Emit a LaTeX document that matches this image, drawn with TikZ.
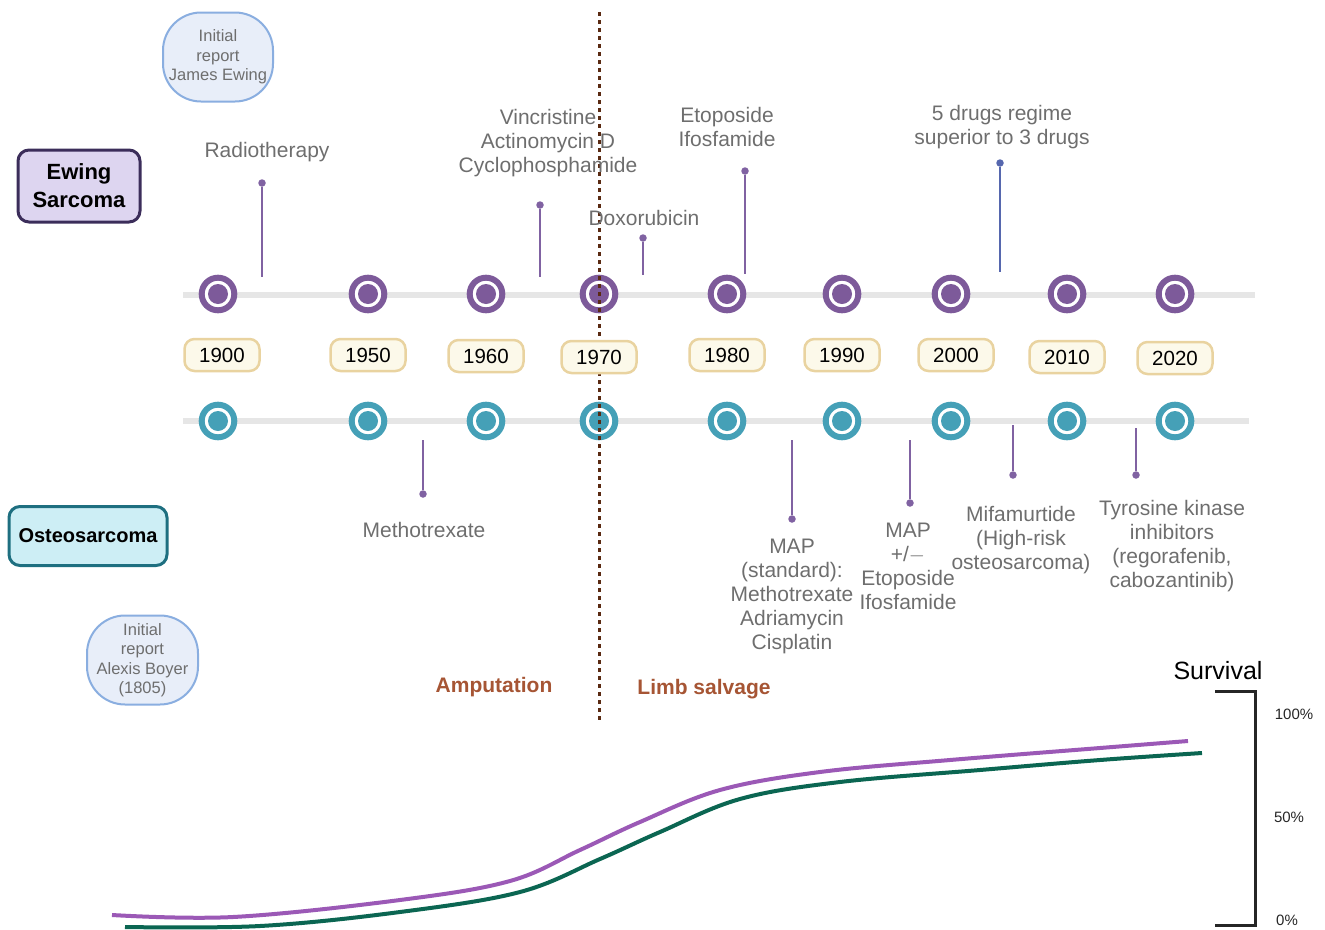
\documentclass[tikz,border=0pt]{standalone}
\usepackage{fontspec}
\setmainfont{Liberation Sans}
\usetikzlibrary{calc}
\definecolor{ewp}{HTML}{7D5A9A}
\definecolor{ost}{HTML}{45A0B7}
\definecolor{tlgray}{HTML}{E6E6E6}
\definecolor{pinc}{HTML}{8062A2}
\definecolor{pinb}{HTML}{5667AE}
\definecolor{txtg}{HTML}{6E6E6E}
\definecolor{yrfill}{HTML}{FCF9EA}
\definecolor{yrdraw}{HTML}{E9D3A0}
\definecolor{divc}{HTML}{5A2A12}
\definecolor{eraC}{HTML}{A65534}
\definecolor{ewfill}{HTML}{DDD5F0}
\definecolor{ewdraw}{HTML}{3B2D5A}
\definecolor{osfill}{HTML}{CDEEF5}
\definecolor{osdraw}{HTML}{1E6F80}
\definecolor{bubfill}{HTML}{E8EEF9}
\definecolor{bubdraw}{HTML}{8AAEE0}
\definecolor{survp}{HTML}{9B59B6}
\definecolor{survg}{HTML}{0B6652}
\tikzset{
  marker/.style={circle,draw=#1,line width=6pt,fill=white,minimum size=32.6pt,inner sep=0pt},
  core/.style={circle,fill=#1,minimum size=20pt,inner sep=0pt},
  yearbox/.style={draw=yrdraw,fill=yrfill,line width=2.5pt,rounded corners=10pt,minimum width=75pt,minimum height=32pt,inner sep=0pt,font=\fontsize{20.5}{24}\selectfont},
  pinline/.style={draw=#1,line width=2.2pt},
  pindot/.style={circle,fill=#1,minimum size=7.5pt,inner sep=0pt},
  lab/.style={text=txtg,align=center,font=\fontsize{21}{24}\selectfont,inner sep=0pt},
  groupbox/.style={rounded corners=11pt,line width=3pt,align=center,inner sep=0pt,font=\bfseries\fontsize{22}{28}\selectfont},
  bubble/.style={draw=bubdraw,fill=bubfill,line width=2pt,rounded corners=38pt,align=center,inner sep=0pt,text=txtg,font=\fontsize{16.5}{19.5}\selectfont},
  era/.style={text=eraC,font=\bfseries\fontsize{21}{24}\selectfont,inner sep=0pt},
  pct/.style={font=\fontsize{15}{18}\selectfont,text=black!85,inner sep=0pt},
}
\begin{document}
\begin{tikzpicture}[x=1pt,y=-1pt]
\useasboundingbox (0,0) rectangle (1325,929);
% timeline rails
\draw[tlgray,line width=6pt] (183,295) -- (1255,295);
\draw[tlgray,line width=6pt] (183,421) -- (1249,421);
% markers
\foreach \yr/\x in {1900/218,1950/368,1960/486,1970/599,1980/727,1990/842,2000/951,2010/1067,2020/1175}{
  \node[marker=ewp] (ew\yr) at (\x,294) {};
  \node[core=ewp] at (ew\yr) {};
  \node[marker=ost] (os\yr) at (\x,421) {};
  \node[core=ost] at (os\yr) {};
}
% divider
\coordinate (divtop) at (599,12);
\coordinate (divbot) at (599,722);
\draw[divc,line width=3pt,dash pattern=on 4pt off 4pt] (divtop) -- (divbot);
% year boxes
\foreach \yr/\x/\y in {1900/222/355,1950/368/355,1960/486/356,1970/599/357,1980/727/355,1990/842/355,2000/956/355,2010/1067/357,2020/1175/358}{
  \node[yearbox] (y\yr) at (\x,\y) {\yr};
}
% group boxes
\node[groupbox,draw=ewdraw,fill=ewfill,minimum width=122pt,minimum height=72pt] (ewing) at (79,186) {Ewing\\Sarcoma};
\node[groupbox,draw=osdraw,fill=osfill,minimum width=158pt,minimum height=59pt,font=\bfseries\fontsize{20}{24}\selectfont] (osteo) at (88,536) {Osteosarcoma};
% bubbles
\node[bubble,minimum width=110pt,minimum height=89pt] (bubE) at (218,57) {Initial\\report\\James Ewing};
\node[bubble,minimum width=111pt,minimum height=89pt] (bubO) at (142.5,660) {Initial\\report\\Alexis Boyer\\(1805)};
% top pins
\node[pindot=pinc] (pR) at (262,183) {};
\coordinate (pRe) at (262,277);
\draw[pinline=pinc] (pR) -- (pRe);
\node[lab] (lR) at (267,152) {Radiotherapy};
\node[pindot=pinc] (pV) at (540,205) {};
\coordinate (pVe) at (540,277);
\draw[pinline=pinc] (pV) -- (pVe);
\node[lab] (lV) at (548,143) {Vincristine\\Actinomycin D\\Cyclophosphamide};
\node[pindot=pinc] (pD) at (643,238) {};
\coordinate (pDe) at (643,275);
\draw[pinline=pinc] (pD) -- (pDe);
\node[lab] (lD) at (644,218) {Doxorubicin};
\node[pindot=pinc] (pE) at (745,171) {};
\coordinate (pEe) at (745,274);
\draw[pinline=pinc] (pE) -- (pEe);
\node[lab] (lE) at (727,127) {Etoposide\\Ifosfamide};
\node[pindot=pinb] (pF) at (1000,163) {};
\coordinate (pFe) at (1000,272);
\draw[pinline=pinb] (pF) -- (pFe);
\node[lab] (lF) at (1002,127) {5 drugs regime\\superior to 3 drugs};
% bottom pins
\coordinate (qMs) at (423,440);
\node[pindot=pinc] (qM) at (423,494) {};
\draw[pinline=pinc] (qMs) -- (qM);
\node[lab] (lM) at (424,530) {Methotrexate};
\coordinate (qAs) at (792,440);
\node[pindot=pinc] (qA) at (792,519) {};
\draw[pinline=pinc] (qAs) -- (qA);
\node[lab] (lA) at (792,596) {MAP\\(standard):\\Methotrexate\\Adriamycin\\Cisplatin};
\coordinate (qBs) at (910,440);
\node[pindot=pinc] (qB) at (910,503) {};
\draw[pinline=pinc] (qBs) -- (qB);
\node[lab] (lB) at (908,566) {MAP\\+/$-$\\Etoposide\\Ifosfamide};
\coordinate (qCs) at (1013,425);
\node[pindot=pinc] (qC) at (1013,475) {};
\draw[pinline=pinc] (qCs) -- (qC);
\node[lab] (lC) at (1021,540) {Mifamurtide\\(High-risk\\osteosarcoma)};
\coordinate (qDs) at (1136,428);
\node[pindot=pinc] (qD) at (1136,475) {};
\draw[pinline=pinc] (qDs) -- (qD);
\node[lab] (lT) at (1172,546) {Tyrosine kinase\\inhibitors\\(regorafenib,\\cabozantinib)};
% eras
\node[era] (amp) at (494,687) {Amputation};
\node[era] (limb) at (704,689) {Limb salvage};
% survival curves
\draw[survp,line width=4pt] plot[smooth,tension=0.6] coordinates {(112,915) (233,917) (400,900) (510,881) (580,850) (640,822) (720,790) (820,772) (950,760) (1100,748) (1188,741)};
\draw[survg,line width=4pt] plot[smooth,tension=0.6] coordinates {(125,927) (260,926) (400,912) (520,892) (600,859) (660,832) (740,799) (840,782) (980,770) (1100,760) (1202,753)};
% survival axis
\coordinate (axT) at (1255,691);
\coordinate (axB) at (1255,925);
\draw[black!85,line width=3pt] (1215,691) -- (axT) -- (axB) -- (1215,925);
\node[font=\fontsize{25}{30}\selectfont,inner sep=0pt] (surv) at (1218,671) {Survival};
\node[pct] (p100) at (1294,714) {100\%};
\node[pct] (p50) at (1289,817) {50\%};
\node[pct] (p0) at (1287,920) {0\%};
\end{tikzpicture}
\end{document}
